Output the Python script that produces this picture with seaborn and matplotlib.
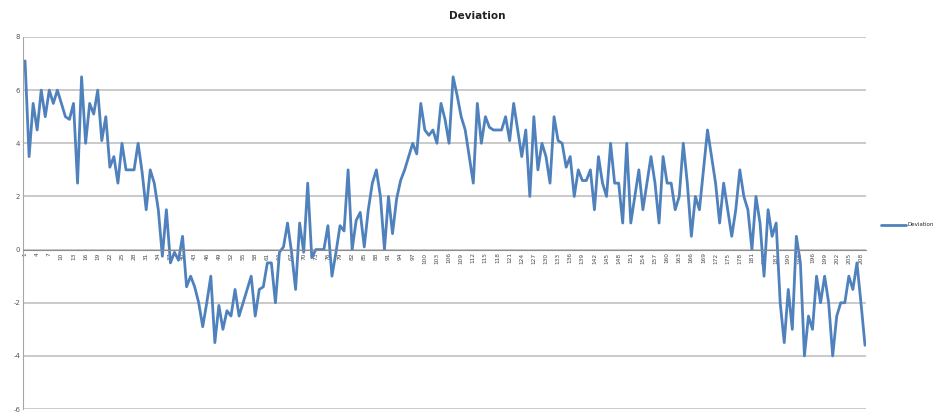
import seaborn as sns
import matplotlib.pyplot as plt
import pandas as pd

title = 'Deviation'
series_name = 'Deviation'

deviation = [
    7.1, 3.5, 5.5, 4.5, 6.0, 5.0, 6.0, 5.5, 6.0, 5.5,
    5.0, 4.9, 5.5, 2.5, 6.5, 4.0, 5.5, 5.1, 6.0, 4.1,
    5.0, 3.1, 3.5, 2.5, 4.0, 3.0, 3.0, 3.0, 4.0, 2.9,
    1.5, 3.0, 2.5, 1.5, -0.25, 1.5, -0.5, -0.1, -0.4, 0.5,
    -1.4, -1.0, -1.4, -2.0, -2.9, -2.0, -1.0, -3.5, -2.1, -3.0,
    -2.3, -2.5, -1.5, -2.5, -2.0, -1.5, -1.0, -2.5, -1.5, -1.4,
    -0.5, -0.5, -2.0, -0.1, 0.1, 1.0, -0.1, -1.5, 1.0, -0.1,
    2.5, -0.3, 0.0, 0.0, 0.0, 0.9, -1.0, -0.1, 0.9, 0.7,
    3.0, 0.0, 1.1, 1.4, 0.1, 1.5, 2.5, 3.0, 2.0, 0.0,
    2.0, 0.6, 1.9, 2.6, 3.0, 3.5, 4.0, 3.6, 5.5, 4.5,
    4.3, 4.5, 4.0, 5.5, 4.9, 4.0, 6.5, 5.8, 5.0, 4.5,
    3.5, 2.5, 5.5, 4.0, 5.0, 4.6, 4.5, 4.5, 4.5, 5.0,
    4.1, 5.5, 4.5, 3.5, 4.5, 2.0, 5.0, 3.0, 4.0, 3.5,
    2.5, 5.0, 4.1, 4.0, 3.1, 3.5, 2.0, 3.0, 2.6, 2.6,
    3.0, 1.5, 3.5, 2.5, 2.0, 4.0, 2.5, 2.5, 1.0, 4.0,
    1.0, 2.0, 3.0, 1.5, 2.5, 3.5, 2.5, 1.0, 3.5, 2.5,
    2.5, 1.5, 2.0, 4.0, 2.5, 0.5, 2.0, 1.5, 3.0, 4.5,
    3.5, 2.5, 1.0, 2.5, 1.5, 0.5, 1.5, 3.0, 2.0, 1.5,
    0.0, 2.0, 1.0, -1.0, 1.5, 0.5, 1.0, -2.0, -3.5, -1.5,
    -3.0, 0.5, -0.5, -4.0, -2.5, -3.0, -1.0, -2.0, -1.0, -2.0,
    -4.0, -2.5, -2.0, -2.0, -1.0, -1.5, -0.5, -2.0, -3.6,
]

y_ticks = [-6, -4, -2, 0, 2, 4, 6, 8]
label_step = 3

n = len(deviation)
df = pd.DataFrame({'point': range(n), 'value': deviation})

sns.set_style('white')
plt.rcParams['font.family'] = ['DejaVu Sans']

fig = plt.figure(figsize=(9.4, 4.2), dpi=100)
ax = fig.add_axes([0.0245, 0.026, 0.897, 0.886])

sns.lineplot(data=df, x='point', y='value', ax=ax, color='#4F81BD',
             linewidth=2.0, label=series_name, legend=False)

# category axis crosses at zero (set before tick styling, it resets ticks)
ax.spines['bottom'].set_position(('data', 0))
ax.spines['bottom'].set_color('#8c8c8c')
ax.spines['left'].set_color('#a6a6a6')
ax.spines['top'].set_visible(False)
ax.spines['right'].set_visible(False)

ax.set_ylim(-6, 8)
ax.set_xlim(-0.5, n - 0.7)
ax.set_yticks(y_ticks)
ax.set_yticklabels([str(v) for v in y_ticks], fontsize=5, color='#595959')
ax.yaxis.grid(True, color='#c6c6c6', linewidth=1.3)
ax.set_axisbelow(True)

ticks = list(range(0, n, label_step))
ax.set_xticks(ticks)
ax.set_xticklabels([str(t + 1) for t in ticks], rotation=90,
                   fontsize=4.2, color='#4a4a4a')
ax.tick_params(axis='both', length=0, pad=2)
ax.set_xlabel('')
ax.set_ylabel('')

fig.text(0.508, 0.962, title, ha='center', va='center',
         fontsize=7.5, fontweight='bold', color='#222222')

handles, labels = ax.get_legend_handles_labels()
fig.legend(handles, labels, loc='center left',
           bbox_to_anchor=(0.932, 1 - 225 / 420), frameon=False,
           fontsize=4, handlelength=4.5, handletextpad=0.3)

plt.savefig('out.png', dpi=100)
